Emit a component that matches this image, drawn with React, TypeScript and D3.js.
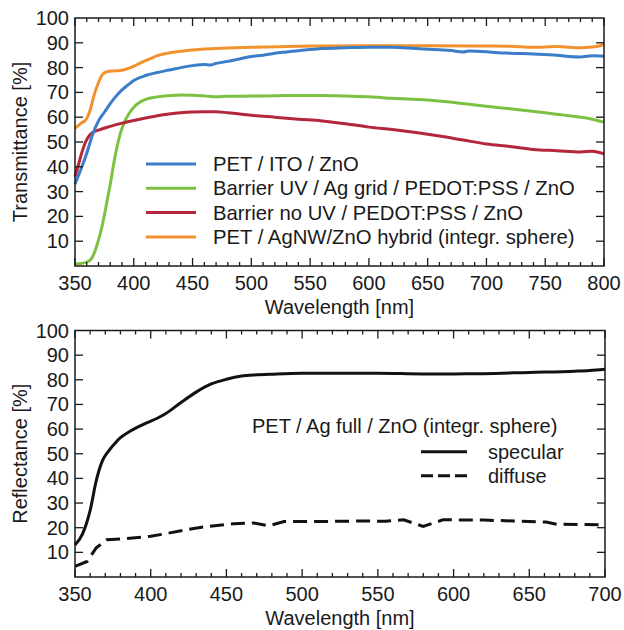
import { useEffect, useRef } from 'react';
import * as d3 from 'd3';

// Transmittance spectra [wavelength nm, %]
const petIto = [
  [350, 33], [355, 39], [360, 45.5], [365, 53], [370, 58.5], [375, 62], [380, 65.5], [385, 68.5],
  [390, 71], [395, 73], [400, 74.8], [410, 76.8], [420, 78], [430, 79], [440, 80], [450, 80.8],
  [460, 81.3], [465, 81], [470, 81.7], [480, 82.5], [490, 83.5], [500, 84.5], [510, 85], [520, 85.8],
  [530, 86.3], [540, 86.8], [550, 87.3], [560, 87.7], [580, 88], [600, 88.2], [620, 88.2], [640, 87.7],
  [660, 87.2], [670, 86.9], [680, 86.3], [685, 86.7], [700, 86.4], [710, 86], [720, 85.8], [740, 85.5],
  [760, 85], [770, 84.5], [780, 84.3], [790, 84.8], [800, 84.6]
];
const barrierUvAg = [
  [350, 0.8], [355, 1], [360, 1.6], [364, 3], [367, 6], [370, 10.5], [373, 16], [376, 23], [380, 33],
  [384, 44], [388, 52.5], [392, 58], [396, 61.5], [400, 64], [405, 66], [410, 67.2], [420, 68.2],
  [430, 68.7], [440, 69], [450, 68.9], [460, 68.6], [470, 68.2], [480, 68.4], [500, 68.5], [530, 68.7],
  [560, 68.8], [580, 68.5], [600, 68.2], [620, 67.6], [650, 66.9], [680, 65.5], [700, 64.4], [720, 63.4],
  [750, 61.8], [770, 60.6], [790, 59.2], [800, 58]
];
const barrierNoUv = [
  [350, 36], [353, 41], [356, 46], [359, 50], [362, 52.5], [365, 53.8], [370, 54.8], [380, 56.3],
  [390, 57.6], [400, 58.7], [410, 59.7], [420, 60.6], [430, 61.3], [440, 61.8], [450, 62.1], [460, 62.2],
  [470, 62.2], [480, 61.8], [490, 61.3], [500, 60.8], [520, 60], [540, 59.2], [560, 58.5], [580, 57.4],
  [600, 56], [620, 55], [640, 53.8], [660, 52.4], [680, 50.8], [700, 49.2], [720, 48.2], [740, 47],
  [760, 46.5], [780, 46], [790, 46.3], [800, 45.2]
];
const petAgnw = [
  [350, 55.5], [355, 57.5], [360, 59.5], [363, 63], [366, 68.5], [370, 74], [373, 77], [377, 78.3],
  [385, 78.7], [391, 79], [396, 79.8], [402, 81], [408, 82.4], [415, 83.8], [420, 84.8], [430, 85.9],
  [440, 86.6], [450, 87.1], [460, 87.5], [480, 87.9], [500, 88.2], [530, 88.5], [560, 88.7], [600, 88.8],
  [650, 88.8], [700, 88.7], [720, 88.6], [740, 88.2], [760, 88.5], [780, 88], [790, 88.3], [795, 88.6],
  [800, 89.3]
];

// Reflectance spectra
const specular = [
  [350, 13], [355, 17.5], [360, 27], [364, 39], [368, 47], [372, 51], [376, 54], [380, 56.5],
  [386, 59], [392, 61], [398, 62.7], [404, 64.3], [410, 66.3], [420, 70.8], [430, 75], [440, 78.3],
  [450, 80.2], [460, 81.5], [470, 82], [480, 82.3], [500, 82.7], [550, 82.7], [580, 82.4], [600, 82.4],
  [620, 82.5], [650, 83], [680, 83.5], [690, 83.8], [700, 84.3]
];
const diffuse = [
  [350, 4.3], [358, 6.3], [364, 11.8], [371, 15.1], [380, 15.4], [400, 16.5], [410, 17.6], [424, 19.2],
  [437, 20.5], [455, 21.6], [468, 21.9], [478, 20.8], [488, 22.5], [510, 22.5], [540, 22.7], [555, 22.6],
  [567, 23.2], [580, 20.5], [593, 23.2], [620, 23.1], [640, 22.7], [661, 22.3], [668, 21.4], [700, 21.2]
];

const topSeries = [
  { name: 'PET / ITO / ZnO', color: '#3b7dc8', data: petIto },
  { name: 'Barrier UV / Ag grid / PEDOT:PSS / ZnO', color: '#7dc143', data: barrierUvAg },
  { name: 'Barrier no UV / PEDOT:PSS / ZnO', color: '#b5263b', data: barrierNoUv },
  { name: 'PET / AgNW/ZnO hybrid (integr. sphere)', color: '#f2922f', data: petAgnw }
];
// drawing order (orange under blue etc. as in the figure)
const drawOrder = [3, 1, 2, 0];

const yTickValues = [10, 20, 30, 40, 50, 60, 70, 80, 90, 100];
const FONT = '"Liberation Sans", Arial, Helvetica, sans-serif';

function drawFrame(g, x, y, xTitle, yTitle) {
  const [x0, x1] = x.range();
  const [y0, y1] = y.range(); // y0 bottom, y1 top
  const [d0, d1] = x.domain();
  const ink = '#1a1a1a';

  // x ticks: minor every 10, major every 50, on bottom and top
  d3.range(d0, d1 + 1, 10).forEach(v => {
    const len = v % 50 === 0 ? 8 : 4;
    const px = x(v);
    g.append('line').attr('x1', px).attr('x2', px).attr('y1', y0).attr('y2', y0 - len)
      .attr('stroke', ink).attr('stroke-width', 1.3);
    g.append('line').attr('x1', px).attr('x2', px).attr('y1', y1).attr('y2', y1 + len)
      .attr('stroke', ink).attr('stroke-width', 1.3);
  });
  d3.range(d0, d1 + 1, 50).forEach(v => {
    g.append('text').attr('x', x(v)).attr('y', y0 + 24).attr('text-anchor', 'middle')
      .attr('font-size', 20).attr('font-family', FONT).attr('fill', ink).text(v);
  });

  // y ticks left & right
  yTickValues.forEach(v => {
    const py = y(v);
    if (v < 100) {
      g.append('line').attr('x1', x0).attr('x2', x0 + 8).attr('y1', py).attr('y2', py)
        .attr('stroke', ink).attr('stroke-width', 1.3);
      g.append('line').attr('x1', x1).attr('x2', x1 - 8).attr('y1', py).attr('y2', py)
        .attr('stroke', ink).attr('stroke-width', 1.3);
    }
    g.append('text').attr('x', x0 - 6).attr('y', py + 7).attr('text-anchor', 'end')
      .attr('font-size', 20).attr('font-family', FONT).attr('fill', ink).text(v);
  });

  g.append('rect').attr('x', x0).attr('y', y1).attr('width', x1 - x0).attr('height', y0 - y1)
    .attr('fill', 'none').attr('stroke', ink).attr('stroke-width', 1.5);

  g.append('text').attr('x', (x0 + x1) / 2).attr('y', y0 + 48).attr('text-anchor', 'middle')
    .attr('font-size', 20).attr('font-family', FONT).attr('fill', ink).text(xTitle);
  g.append('text').attr('transform', `translate(27,${(y0 + y1) / 2}) rotate(-90)`)
    .attr('text-anchor', 'middle').attr('font-size', 20).attr('font-family', FONT)
    .attr('fill', ink).text(yTitle);
}

function App() {
  const ref = useRef(null);

  useEffect(() => {
    const svg = d3.select(ref.current);
    svg.selectAll('*').remove();

    svg.append('rect').attr('width', 624).attr('height', 630).attr('fill', '#fff');

    // ---- Top panel: transmittance
    const tx = d3.scaleLinear().domain([350, 800]).range([75, 604]);
    const ty = d3.scaleLinear().domain([0, 100]).range([266, 18]);
    const top = svg.append('g');

    const tLine = d3.line().x(d => tx(d[0])).y(d => ty(d[1])).curve(d3.curveMonotoneX);
    drawOrder.forEach(i => {
      const s = topSeries[i];
      top.append('path').attr('d', tLine(s.data)).attr('fill', 'none')
        .attr('stroke', s.color).attr('stroke-width', 3).attr('stroke-linejoin', 'round');
    });

    topSeries.forEach((s, i) => {
      const ly = 164 + i * 24.3;
      top.append('line').attr('x1', 146).attr('x2', 196).attr('y1', ly).attr('y2', ly)
        .attr('stroke', s.color).attr('stroke-width', 3);
      top.append('text').attr('x', 213).attr('y', ly + 7).attr('font-size', 20.3)
        .attr('font-family', FONT).attr('fill', '#1a1a1a').text(s.name);
    });

    drawFrame(top, tx, ty, 'Wavelength [nm]', 'Transmittance [%]');

    // ---- Bottom panel: reflectance
    const bx = d3.scaleLinear().domain([350, 700]).range([75, 605]);
    const by = d3.scaleLinear().domain([0, 100]).range([577, 330.5]);
    const bot = svg.append('g');

    const rLine = d3.line().x(d => bx(d[0])).y(d => by(d[1])).curve(d3.curveMonotoneX);
    bot.append('path').attr('d', rLine(specular)).attr('fill', 'none')
      .attr('stroke', '#111').attr('stroke-width', 3);
    bot.append('path').attr('d', d3.line().x(d => bx(d[0])).y(d => by(d[1]))(diffuse))
      .attr('fill', 'none').attr('stroke', '#111').attr('stroke-width', 3)
      .attr('stroke-dasharray', '14,7');

    bot.append('text').attr('x', 252).attr('y', 433).attr('font-size', 20)
      .attr('font-family', FONT).attr('fill', '#1a1a1a').text('PET / Ag full / ZnO (integr. sphere)');
    bot.append('line').attr('x1', 421).attr('x2', 467).attr('y1', 451.7).attr('y2', 451.7)
      .attr('stroke', '#111').attr('stroke-width', 3);
    bot.append('text').attr('x', 488).attr('y', 458.5).attr('font-size', 20)
      .attr('font-family', FONT).attr('fill', '#1a1a1a').text('specular');
    bot.append('line').attr('x1', 421).attr('x2', 467).attr('y1', 475.7).attr('y2', 475.7)
      .attr('stroke', '#111').attr('stroke-width', 3).attr('stroke-dasharray', '12,5');
    bot.append('text').attr('x', 488).attr('y', 482.5).attr('font-size', 20)
      .attr('font-family', FONT).attr('fill', '#1a1a1a').text('diffuse');

    drawFrame(bot, bx, by, 'Wavelength [nm]', 'Reflectance [%]');
  }, []);

  return (
    <svg ref={ref} width={624} height={630}
      style={{ position: 'absolute', left: 0, top: 0 }} />
  );
}

export default App;
